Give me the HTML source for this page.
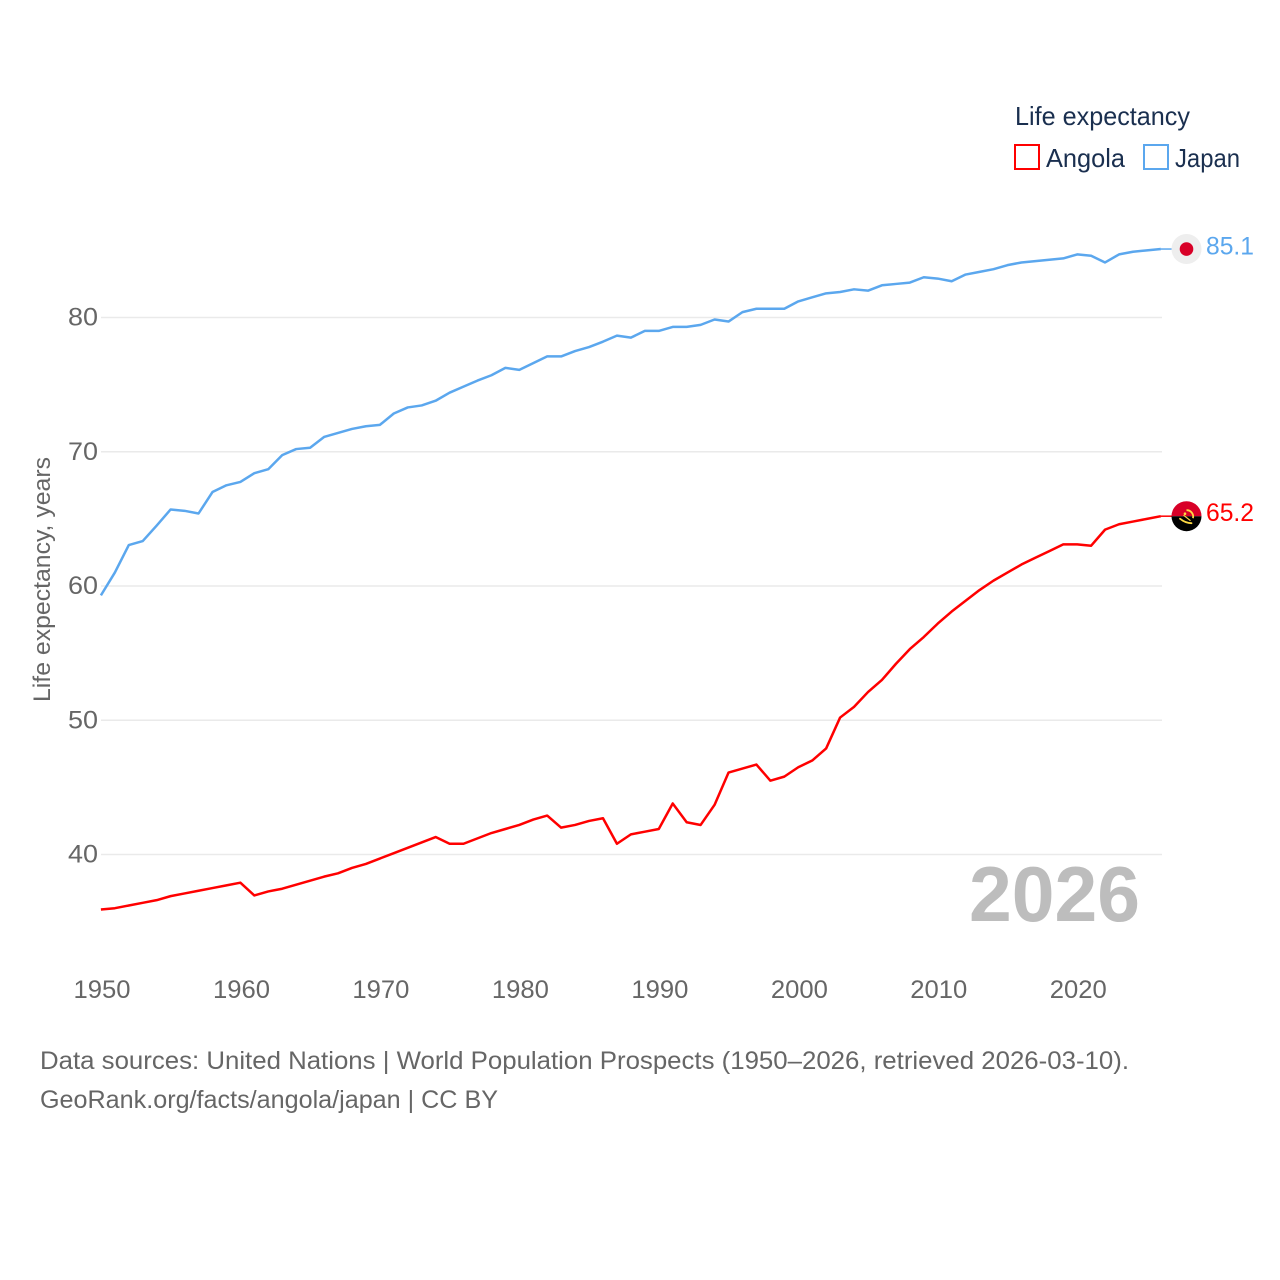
<!DOCTYPE html>
<html lang="en">
<head>
<meta charset="utf-8">
<title>Life expectancy: Angola and Japan</title>
<style>
html,body{margin:0;padding:0;background:#fff;}
svg{display:block;font-family:"Liberation Sans",sans-serif;}
</style>
</head>
<body>
<svg id="chart" xmlns="http://www.w3.org/2000/svg" width="1280" height="1280" viewBox="0 0 1280 1280">
  <rect x="0" y="0" width="1280" height="1280" fill="#ffffff"/>
  <g id="grid"></g>
  <g id="yticks"></g>
  <g id="xticks"></g>
  <text transform="translate(50,702) rotate(-90)" font-size="24" fill="#666666" textLength="245" lengthAdjust="spacingAndGlyphs">Life expectancy, years</text>
  <text x="969" y="921" font-size="78" font-weight="700" fill="#bdbdbd" textLength="171" lengthAdjust="spacingAndGlyphs">2026</text>
  <g id="series"></g>
  <g id="markers"></g>

  <g>
    <text x="1015" y="125" font-size="26" fill="#1a2f4f" textLength="175" lengthAdjust="spacingAndGlyphs">Life expectancy</text>
    <rect x="1015" y="145" width="24" height="24" fill="#fff" stroke="#ff0000" stroke-width="2"/>
    <text x="1046" y="167" font-size="26" fill="#1a2f4f" textLength="79" lengthAdjust="spacingAndGlyphs">Angola</text>
    <rect x="1144" y="145" width="24" height="24" fill="#fff" stroke="#5ba7ee" stroke-width="2"/>
    <text x="1175" y="167" font-size="26" fill="#1a2f4f" textLength="65" lengthAdjust="spacingAndGlyphs">Japan</text>
  </g>

  <g>
    <text x="40" y="1069" font-size="25" fill="#666666" textLength="1089" lengthAdjust="spacingAndGlyphs">Data sources: United Nations | World Population Prospects (1950–2026, retrieved 2026-03-10).</text>
    <text x="40" y="1108" font-size="25" fill="#666666" textLength="458" lengthAdjust="spacingAndGlyphs">GeoRank.org/facts/angola/japan | CC BY</text>
  </g>
</svg>
<script>
const years = [1950,1951,1952,1953,1954,1955,1956,1957,1958,1959,1960,1961,1962,1963,1964,1965,1966,1967,1968,1969,1970,1971,1972,1973,1974,1975,1976,1977,1978,1979,1980,1981,1982,1983,1984,1985,1986,1987,1988,1989,1990,1991,1992,1993,1994,1995,1996,1997,1998,1999,2000,2001,2002,2003,2004,2005,2006,2007,2008,2009,2010,2011,2012,2013,2014,2015,2016,2017,2018,2019,2020,2021,2022,2023,2024,2025,2026];
const japanValues = [59.3,61.0,63.05,63.35,64.5,65.7,65.6,65.4,67.0,67.5,67.75,68.4,68.7,69.75,70.2,70.3,71.1,71.4,71.7,71.9,72.0,72.85,73.3,73.45,73.8,74.4,74.85,75.3,75.7,76.25,76.1,76.6,77.1,77.1,77.5,77.8,78.2,78.65,78.5,79.0,79.0,79.3,79.3,79.45,79.85,79.7,80.4,80.65,80.65,80.65,81.2,81.5,81.8,81.9,82.1,82.0,82.4,82.5,82.6,83.0,82.9,82.7,83.2,83.4,83.6,83.9,84.1,84.2,84.3,84.4,84.7,84.6,84.1,84.7,84.9,85.0,85.1];
const angolaValues = [35.9,36.0,36.2,36.4,36.6,36.9,37.1,37.3,37.5,37.7,37.9,36.95,37.25,37.45,37.75,38.05,38.35,38.6,39.0,39.3,39.7,40.1,40.5,40.9,41.3,40.8,40.8,41.2,41.6,41.9,42.2,42.6,42.9,42.0,42.2,42.5,42.7,40.8,41.5,41.7,41.9,43.8,42.4,42.2,43.7,46.1,46.4,46.7,45.5,45.8,46.5,47.0,47.9,50.2,51.0,52.1,53.0,54.2,55.3,56.2,57.2,58.1,58.9,59.7,60.4,61.0,61.6,62.1,62.6,63.1,63.1,63.0,64.2,64.6,64.8,65.0,65.2];
const yTickValues = [40,50,60,70,80];
const xTickValues = [1950,1960,1970,1980,1990,2000,2010,2020];
const japanEndLabel = "85.1";
const angolaEndLabel = "65.2";

const NS = "http://www.w3.org/2000/svg";
function xScale(year){ return 100.9 + (year - 1950) * 13.947; }
function yScale(v){ return 854.5 - (v - 40) * 13.425; }
function make(tag, parent, attrs){
  const el = document.createElementNS(NS, tag);
  for (const k in attrs) el.setAttribute(k, attrs[k]);
  parent.appendChild(el);
  return el;
}

const grid = document.getElementById("grid");
const yticks = document.getElementById("yticks");
yTickValues.forEach(function(v){
  const line = make("line", grid, {x1:101, x2:1162, y1:yScale(v), y2:yScale(v), stroke:"#eaeaea", "stroke-width":1.5});
  
  
  const t = make("text", yticks, {x:98, y:yScale(v)+8, "text-anchor":"end", "font-size":25, fill:"#666666", textLength:30, lengthAdjust:"spacingAndGlyphs"});
  
  
  t.textContent = String(v);
});

const xticks = document.getElementById("xticks");
xTickValues.forEach(function(y){
  const t = make("text", xticks, {x:xScale(y)+1.1, y:998, "text-anchor":"middle", "font-size":25, fill:"#666666", textLength:57, lengthAdjust:"spacingAndGlyphs"});
  
  
  t.textContent = String(y);
});

function linePath(vals){
  return vals.map(function(v,i){ return (i ? "L" : "M") + xScale(years[i]).toFixed(2) + " " + yScale(v).toFixed(2); }).join(" ");
}
const series = document.getElementById("series");
const japanLine = make("path", series, {d:linePath(japanValues), fill:"none", stroke:"#5ba7ee", "stroke-width":2.5, "stroke-linejoin":"round"});


const angolaLine = make("path", series, {d:linePath(angolaValues), fill:"none", stroke:"#ff0000", "stroke-width":2.5, "stroke-linejoin":"round"});



const markers = document.getElementById("markers");
const jLast = japanValues[japanValues.length-1];
const aLast = angolaValues[angolaValues.length-1];
const jy = yScale(jLast);
const ay = yScale(aLast);
const lastX = xScale(years[years.length-1]);

const jStub = make("line", markers, {x1:lastX, x2:1172, y1:jy, y2:jy, stroke:"#5ba7ee", "stroke-width":1.5});


const aStub = make("line", markers, {x1:lastX, x2:1172, y1:ay, y2:ay, stroke:"#ff0000", "stroke-width":1.5});



const jFlag = make("g", markers, {transform:"translate(1186.5," + jy + ")"});


make("circle", jFlag, {r:15, fill:"#eeeeee"});
make("circle", jFlag, {r:6.8, fill:"#d80027"});

const aFlag = make("g", markers, {transform:"translate(1186.5," + ay + ")"});


make("path", aFlag, {d:"M-15 0A15 15 0 0 1 15 0Z", fill:"#d80027"});
make("path", aFlag, {d:"M-15 0A15 15 0 0 0 15 0Z", fill:"#000000"});
make("path", aFlag, {d:"M0 -6A6.5 6.5 0 0 1 6.5 2", fill:"none", stroke:"#ffda44", "stroke-width":1.8});
make("path", aFlag, {d:"M-6.5 2.5Q-1 7 5 7", fill:"none", stroke:"#ffda44", "stroke-width":1.8, "stroke-linecap":"round"});
make("path", aFlag, {d:"M-3 -1L4 4.5", fill:"none", stroke:"#ffda44", "stroke-width":1.2});
make("circle", aFlag, {cx:-1.5, cy:-2.5, r:1.3, fill:"#ffda44"});

const jLabel = make("text", markers, {x:1206, y:jy+5.5, "font-size":25, fill:"#5ba7ee", textLength:48, lengthAdjust:"spacingAndGlyphs"});


jLabel.textContent = japanEndLabel;
const aLabel = make("text", markers, {x:1206, y:ay+5, "font-size":25, fill:"#ff0000", textLength:48, lengthAdjust:"spacingAndGlyphs"});


aLabel.textContent = angolaEndLabel;
</script>
</body>
</html>
